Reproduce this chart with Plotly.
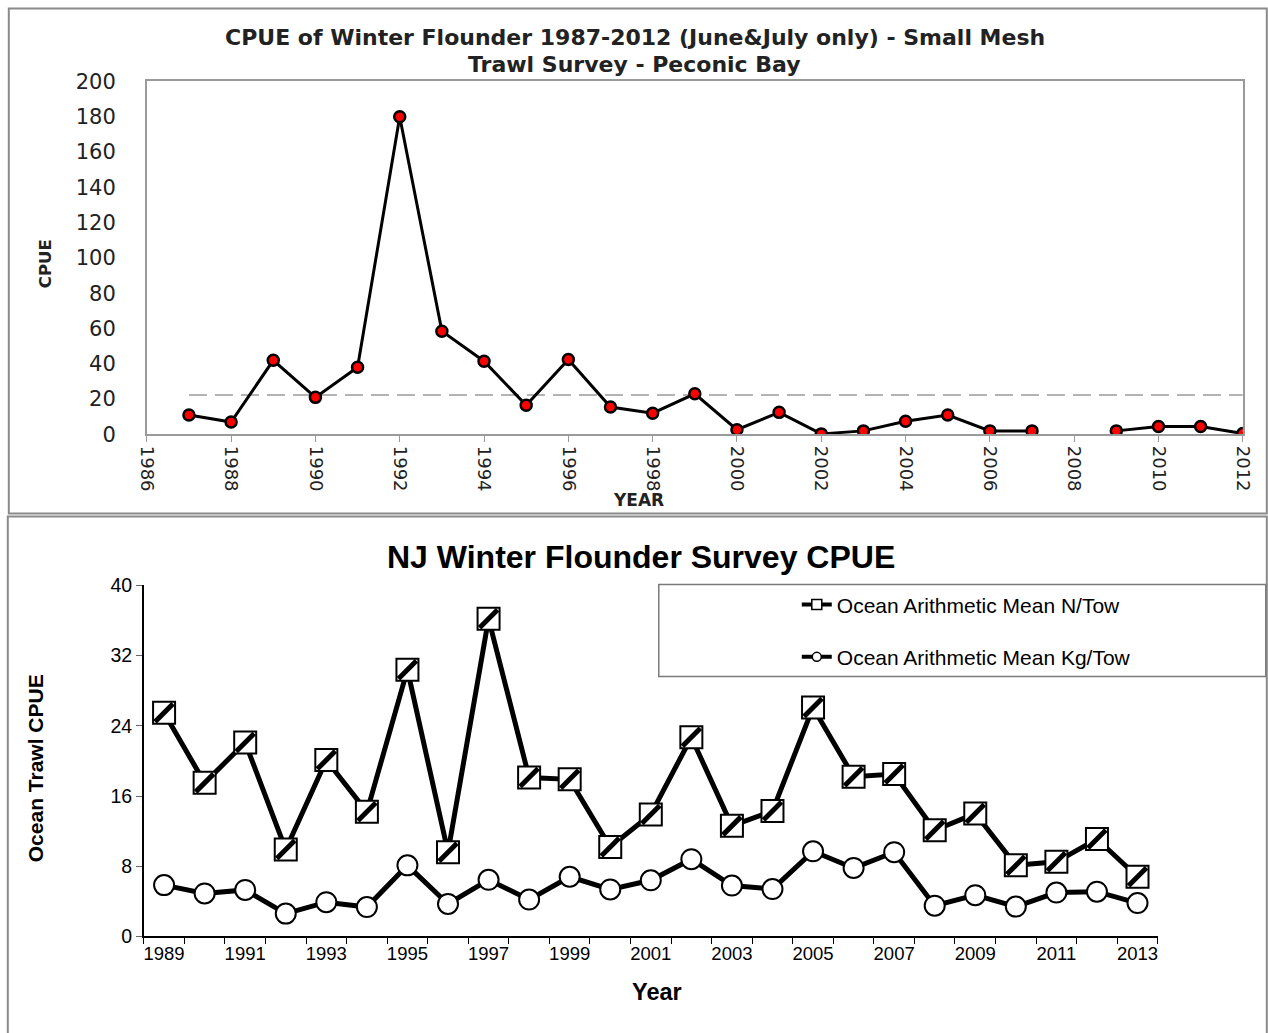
import plotly.graph_objects as go

# ---- top panel: Peconic Bay small mesh trawl survey ----
pb_years = list(range(1987, 2013))
pb_cpue = [11, 7, 42, 21, 38, 180, 58.5, 41.5, 16.5, 42.5, 15.5, 12, 23, 2.7, 12.5, 0.3,
           2, 7.5, 11, 2, 2, None, 2, 4.5, 4.5, 0.5]
pb_mean_years = [1987, 2012]
pb_mean_cpue = [22.3, 22.3]

# ---- bottom panel: NJ ocean trawl ----
nj_years = list(range(1989, 2014))
nj_n_tow = [25.5, 17.5, 22.1, 9.9, 20.1, 14.2, 30.4, 9.6, 36.2, 18.1, 17.9, 10.2, 13.9,
            22.7, 12.6, 14.3, 26.1, 18.2, 18.5, 12.1, 14.0, 8.1, 8.5, 11.1, 6.8]
nj_kg_tow = [5.85, 4.9, 5.3, 2.6, 3.9, 3.35, 8.1, 3.7, 6.45, 4.2, 6.8, 5.35, 6.4,
             8.8, 5.8, 5.4, 9.7, 7.8, 9.6, 3.5, 4.7, 3.4, 5.0, 5.1, 3.8]
nj_label_years = list(range(1989, 2014, 2))

# the snapshot shows the page slightly shrunk and shifted; positions below are
# target pixels in the final picture, converted back to figure pixels
SX, OX = 0.9836, 9.2
SY, OY = 0.977, 11.6
W, H = 1280, 1045
def px(x): return (x - OX) / SX / W
def py(y): return 1 - (y - OY) / SY / H

fig = go.Figure()

# top chart
fig.add_trace(go.Scatter(x=pb_mean_years, y=pb_mean_cpue, mode='lines',
                         line=dict(color='#b3b3b3', width=2, dash='18px,8px'),
                         showlegend=False, hoverinfo='skip', xaxis='x', yaxis='y'))
fig.add_trace(go.Scatter(x=pb_years, y=pb_cpue, mode='lines+markers', connectgaps=False,
                         line=dict(color='black', width=3),
                         marker=dict(color='#ff0000', size=11, line=dict(color='black', width=2.5)),
                         showlegend=False, xaxis='x', yaxis='y'))

# bottom chart
fig.add_trace(go.Scatter(x=nj_years, y=nj_n_tow, mode='lines+markers',
                         line=dict(color='black', width=5),
                         marker=dict(symbol='square', size=22, color='white', line=dict(color='black', width=2)),
                         showlegend=False, xaxis='x2', yaxis='y2'))
fig.add_trace(go.Scatter(x=nj_years, y=nj_n_tow, mode='markers',
                         marker=dict(symbol='line-ne', size=18, line=dict(color='black', width=5)),
                         showlegend=False, hoverinfo='skip', xaxis='x2', yaxis='y2'))
fig.add_trace(go.Scatter(x=nj_years, y=nj_kg_tow, mode='lines+markers',
                         line=dict(color='black', width=5),
                         marker=dict(symbol='circle', size=20, color='white', line=dict(color='black', width=2)),
                         showlegend=False, xaxis='x2', yaxis='y2'))

# legend-only entries with small markers, like the original key
fig.add_trace(go.Scatter(x=[None], y=[None], mode='lines+markers', name='Ocean Arithmetic Mean N/Tow',
                         line=dict(color='black', width=4),
                         marker=dict(symbol='square', size=10, color='white', line=dict(color='black', width=1.5)),
                         legendgroup='a', xaxis='x2', yaxis='y2'))
fig.add_trace(go.Scatter(x=[None], y=[None], mode='lines+markers', name='Ocean Arithmetic Mean Kg/Tow',
                         line=dict(color='black', width=4),
                         marker=dict(symbol='circle', size=9, color='white', line=dict(color='black', width=1.5)),
                         legendgroup='b', xaxis='x2', yaxis='y2'))

top_font = 'DejaVu Sans'
arial = 'Liberation Sans, Arial'

def label(text, x, y, size, family, angle=0, color='black'):
    return dict(text=text, x=px(x), y=py(y), xref='paper', yref='paper', showarrow=False,
                xanchor='center', yanchor='middle', textangle=angle,
                font=dict(family=family, size=size, color=color))

fig.update_layout(
    width=W, height=H, margin=dict(l=0, r=0, t=0, b=0),
    paper_bgcolor='white', plot_bgcolor='white',
    xaxis=dict(domain=[px(146), px(1242)], range=[1986, 2012], dtick=2, tick0=1986,
               tickangle=90, ticks='outside', ticklen=6, tickcolor='#9a9a9a',
               showline=True, linecolor='#9a9a9a', linewidth=1.5, mirror=True,
               showgrid=False, zeroline=False,
               tickfont=dict(family=top_font, size=18, color='#222')),
    yaxis=dict(domain=[py(434), py(81)], range=[0, 200], dtick=20,
               showline=True, linecolor='#9a9a9a', linewidth=1.5, mirror=True,
               showgrid=False, zeroline=False, ticks='', ticklabelstandoff=25,
               tickfont=dict(family=top_font, size=21, color='#222')),
    xaxis2=dict(domain=[px(143), px(1157)], range=[1988.5, 2013.5], anchor='y2',
                tickmode='array', tickvals=nj_label_years, ticks='',
                minor=dict(tick0=1988.5, dtick=1, ticks='outside', ticklen=6, tickcolor='black'),
                showline=True, linecolor='black', linewidth=1.5,
                showgrid=False, zeroline=False,
                tickfont=dict(family=arial, size=18.5, color='black')),
    yaxis2=dict(domain=[py(936), py(585)], range=[0, 40], dtick=8, anchor='x2',
                ticks='outside', ticklen=6, tickcolor='#666',
                showline=True, linecolor='black', linewidth=1.5,
                showgrid=False, zeroline=False,
                tickfont=dict(family=arial, size=19.5, color='black')),
    showlegend=True,
    legend=dict(x=px(796), y=py(584), xanchor='left', yanchor='top',
                bgcolor='rgba(0,0,0,0)', borderwidth=0, tracegroupgap=22,
                font=dict(family=arial, size=21, color='black')),
    shapes=[
        dict(type='rect', xref='paper', yref='paper', x0=px(8), x1=px(1266), y0=py(513), y1=py(8),
             line=dict(color='#8a8a8a', width=2), layer='below'),
        dict(type='rect', xref='paper', yref='paper', x0=px(7), x1=px(1266), y0=py(1050), y1=py(516),
             line=dict(color='#8a8a8a', width=2), layer='below'),
        dict(type='rect', xref='paper', yref='paper', x0=px(658), x1=px(1265), y0=py(676), y1=py(584),
             line=dict(color='#7a7a7a', width=1.5), layer='below'),
    ],
    annotations=[
        label('<b>CPUE of Winter Flounder 1987-2012 (June&July only) - Small Mesh</b>', 634, 37.5, 22, top_font, color='#222'),
        label('<b>Trawl Survey - Peconic Bay</b>', 634, 64, 22, top_font, color='#222'),
        label('<b>CPUE</b>', 45, 263, 16.5, top_font, angle=-90, color='#222'),
        label('<b>YEAR</b>', 638, 500, 17, top_font, color='#222'),
        label('<b>NJ Winter Flounder Survey CPUE</b>', 640, 557, 32, arial),
        label('<b>Ocean Trawl CPUE</b>', 35, 768, 21, arial, angle=-90),
        label('<b>Year</b>', 656, 992, 23.5, arial),
    ],
)

fig.write_html("out.html", config={'displayModeBar': False},
               post_script="document.body.style.margin='0';document.body.style.overflow='hidden';")
